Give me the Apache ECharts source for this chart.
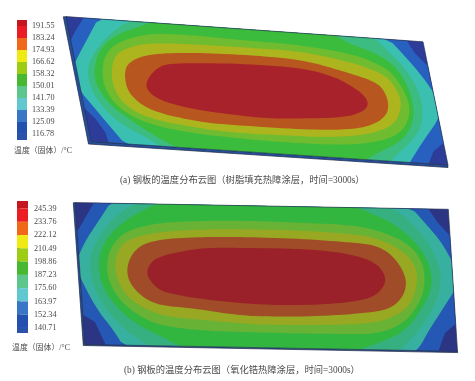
<!DOCTYPE html>
<html>
<head>
<meta charset="utf-8">
<style>
  html, body { margin: 0; padding: 0; background: #fff; }
  #main { width: 475px; height: 381px; filter: blur(0.35px); }
</style>
<script src="https://cdn.jsdelivr.net/npm/echarts@6/dist/echarts.min.js"></script>
</head>
<body>
<div id="main"></div>
<script>
// colour bar levels
const levelsA = [191.55, 183.24, 174.93, 166.62, 158.32, 150.01, 141.70, 133.39, 125.09, 116.78];
const levelsB = [245.39, 233.76, 222.12, 210.49, 198.86, 187.23, 175.60, 163.97, 152.34, 140.71];
const rangeA = [112.6, 195.7];
const rangeB = [136.3, 252.0];
const barColors = ['#c4161f', '#ec1c24', '#f0691a', '#f0ea14', '#9ccc14', '#48b832', '#5cc68c', '#62c8d0', '#3a76c8', '#2450b0', '#2a52a8'];

const captionA = '(a) 钢板的温度分布云图（树脂填充热障涂层，时间=3000s）';
const captionB = '(b) 钢板的温度分布云图（氧化锆热障涂层，时间=3000s）';
const unitLabel = '温度（固体）/°C';

// plate outlines + contours (image px, the axes below are 0-475 / 0-381)
const sideA = [[63.3,16.8],[66.5,16.8],[92,141.5],[447.8,165],[448,167.5],[88.5,144]];
const plateA = [[66,16.6],[423,41.8],[448,165],[91,141.6]];
const blueA = [[86,14],[75,31.7],[70,41.7],[60,50],[60,105],[82,106],[95,118.3],[105,131.7],[110,146],[427,168],[433.3,151.7],[443.3,143],[455,143],[455,66],[427.4,65.7],[415,53.3],[405,38]];
const cyanA = [[101.7,12],[86.7,40],[77,58],[72,70],[78,88.3],[93.3,106.7],[111.7,128.3],[128.3,148],[200,156],[300,163],[405,172],[410,161.7],[425,138.3],[441,116],[437,98.3],[424,78.3],[404,55],[386,36],[300,26],[200,19]];
const tealA = [[133,17],[106.7,36.7],[93.3,53.3],[87,70],[90.5,88.3],[104,109],[124,126],[150,139],[170,152],[250,161],[320,166],[385,170],[391,160],[411,142],[421,128],[423,108],[417.5,88],[404,67],[386,49],[370,34],[300,24],[200,17]];
const greenA = [[165,17],[150,23],[116.7,34],[100.5,48],[94,66.7],[95.5,84],[109,104],[129,119],[150,133],[185,152],[250,161],[320,166],[355,168],[371,156],[401,142],[412.5,125],[414,106.7],[407.5,85],[394,64],[371,51],[350,44],[325,29],[250,21]];
const limeA = [[102,70],[105,55],[117,42],[150,33],[190,35],[240,40],[301.7,45],[351.7,54],[371,61],[391,71],[404.5,91],[410.5,108],[406.5,126],[394,137],[371,143],[340,145],[285,142.5],[240,138.5],[186.7,132.5],[143,122.5],[117,107],[104,87]];
const yellowA = [[111,70],[115,55],[129,47],[150,43],[190,44],[240,47.2],[301.7,51.2],[351.7,62.6],[371,69],[388,77],[399.5,94],[401.5,108],[394.5,125],[371,134],[335,137.5],[285,135.5],[240,133.2],[200,128.5],[150,119],[125.5,106],[113.5,89]];
const orangeA = [[124,75],[128,62],[149,54],[190,52.5],[240,54.5],[301.7,59.5],[342,71],[371,80],[383,88],[389,103.3],[386.5,116],[371,126],[345,130],[301.7,129.5],[240,125.5],[200,122.3],[150,111],[128.5,94]];
const redA = [[144.5,83],[158,66],[176.7,63],[240,63.5],[301.7,67.8],[336,77],[359.5,91],[369,101.7],[365,111],[345,117.5],[301.7,118.5],[268,118.5],[240,115.5],[200,110.5],[165.7,102.5],[150,94]];

const sideB = [[73.3,202.8],[75.5,202.8],[85.3,344],[457.5,351],[457.7,352.6],[83.3,345.5]];
const plateB = [[75,202.6],[448.3,209.3],[457.5,351.3],[85,344.4]];
const blueB = [[96.7,198],[85,218],[78.3,229.7],[68,240],[68,310],[85,316],[95,322],[106.7,347],[436.7,356],[445,333],[456.7,323],[465,323],[465,234],[449,234.7],[436.7,221.3],[425.7,205]];
const cyanB = [[115,196],[98.3,221.3],[84,243],[75,264.7],[84,285.5],[98.3,311.3],[113.3,329.7],[125,349],[200,355],[300,357],[400,361],[418.3,350],[429,330],[444,307],[458,285],[458,273],[443,244],[426,224],[408,204],[300,197],[200,195]];
const tealB = [[136.7,201],[110,221],[94,244.7],[88.5,264.7],[94,288.5],[107.5,312],[126,330.5],[150,347],[170,353],[250,357],[330,359],[391.7,357],[404,347],[419,330.5],[434.5,307],[441.5,283],[439.5,266],[429,242],[409,220],[389,205],[300,198],[200,196]];
const greenB = [[150,206],[119,224],[102,244.7],[98,264.7],[102.3,287],[116,307],[136,324],[160,336],[190,351],[250,355],[320,356],[345,354],[376,344],[404,332.5],[421,310.5],[431.5,290],[431.5,269],[419.3,245.3],[396,225],[376,215],[345,203],[250,198],[175,198]];
const limeB = [[106.3,264.7],[110.5,247],[126,230.3],[160,222.5],[200,221],[240,220.5],[301.7,222.8],[351.7,225],[376,230],[402.5,240],[419.5,255],[425.8,276.3],[421.5,300.5],[404,324],[376,334],[350,334],[301.7,333.5],[240,332],[200,330.5],[160,325.5],[141,317],[120.7,302],[109,282]];
const yellowB = [[114.7,266.3],[117,252],[127.3,238.7],[160,231.8],[200,229.5],[240,229],[301.7,230.5],[358.3,234.5],[376,238],[399,248],[414.5,263],[418.2,279.7],[411.5,304],[396,316],[375,323],[335,325],[268.3,325],[240,323.2],[186.7,318.6],[160,315.5],[132.3,302],[119,285.5]];
const orangeB = [[126.5,264.7],[137,246.5],[160,239],[200,237],[240,236.8],[301.7,238.8],[352,242.5],[376,245.3],[393,255.3],[406.5,276.3],[405,294],[393,307.3],[375,312.3],[318.3,316.5],[268.3,316.5],[240,315.5],[186.7,307.5],[160,305.5],[142.3,297.3],[128.5,282]];
const redB = [[146.5,276.3],[148.5,265],[159,256],[200,247.8],[240,247.8],[301.7,248.8],[345,252.8],[376,262],[387,278],[381.5,290.5],[369,299],[335,304],[285,305.5],[240,303.2],[200,298.8],[175,294.5],[159,290.5]];

const paletteA = { navy: '#2c3c98', blue: '#2860c0', cyan: '#3abfb0', teal: '#3cbc80', green: '#3cbc3c', lime: '#70bc30', yellow: '#acb41e', orange: '#b8561f', red: '#a8222c' };
const paletteB = { navy: '#2c3484', blue: '#2458b4', cyan: '#38b0a0', teal: '#36b080', green: '#33b640', lime: '#68b236', yellow: '#98a822', orange: '#a04c28', red: '#9a2029' };

// corner cutting, the read-off vertices are a bit noisy for the library's own smooth option
function cutCorners(pts, rounds) {
  let out = pts;
  for (let r = 0; r < rounds; r++) {
    const next = [];
    out.forEach((p, i) => {
      const q = out[(i + 1) % out.length];
      next.push([p[0] * 0.75 + q[0] * 0.25, p[1] * 0.75 + q[1] * 0.25]);
      next.push([p[0] * 0.25 + q[0] * 0.75, p[1] * 0.25 + q[1] * 0.75]);
    });
    out = next;
  }
  return out;
}

function polygonSeries(points, color, clipTo, rounds, stroke) {
  return {
    type: 'custom',
    coordinateSystem: 'cartesian2d',
    xAxisIndex: 0,
    yAxisIndex: 0,
    silent: true,
    clip: false,
    data: points,
    renderItem: (params, api) => {
      if (params.dataIndex !== 0) return null;
      const el = {
        type: 'polygon',
        shape: { points: cutCorners(points.map(p => api.coord(p)), rounds || 0) },
        style: { fill: color, stroke: stroke || null, lineWidth: stroke ? 0.7 : 0 }
      };
      if (clipTo) el.clipPath = { type: 'polygon', shape: { points: clipTo.map(p => api.coord(p)) } };
      return el;
    }
  };
}

function plateSeries(side, sideColor, plate, pal, contours) {
  const list = [
    polygonSeries(side, sideColor, null, 0, '#1c2440'),
    polygonSeries(plate, pal.navy)
  ];
  list.push(polygonSeries(contours.blue, pal.blue, plate));
  list.push(polygonSeries(contours.cyan, pal.cyan, plate, 2));
  list.push(polygonSeries(contours.teal, pal.teal, plate, 2));
  list.push(polygonSeries(contours.green, pal.green, plate, 2));
  list.push(polygonSeries(contours.lime, pal.lime, plate, 3));
  list.push(polygonSeries(contours.yellow, pal.yellow, plate, 3));
  list.push(polygonSeries(contours.orange, pal.orange, plate, 3));
  list.push(polygonSeries(contours.red, pal.red, plate, 3));
  list.push(polygonSeries(plate, 'transparent', null, 0, '#2a3550'));
  return list;
}

// one colour band per gap between levels, plus the two end bands
function barBands(levels, range) {
  const edges = [range[1], ...levels, range[0]];
  return edges.slice(1).map((low, i) => [low, edges[i]]);
}

function barSeries(levels, range, axisIndex) {
  return {
    type: 'custom',
    xAxisIndex: axisIndex,
    yAxisIndex: axisIndex,
    silent: true,
    encode: { y: [0, 1] },
    data: barBands(levels, range),
    renderItem: (params, api) => {
      const top = api.coord([0, api.value(1)]);
      const bottom = api.coord([1, api.value(0)]);
      return {
        type: 'rect',
        shape: { x: top[0], y: top[1], width: bottom[0] - top[0], height: bottom[1] - top[1] },
        style: { fill: barColors[params.dataIndex] }
      };
    }
  };
}

function barAxis(levels, range, gridIndex, margin) {
  return {
    type: 'value',
    gridIndex: gridIndex,
    min: range[0],
    max: range[1],
    position: 'right',
    splitLine: { show: false },
    axisLine: { show: false },
    axisTick: { show: true, customValues: levels, length: 3, lineStyle: { color: '#555', width: 0.8 } },
    axisLabel: {
      customValues: levels,
      margin: margin,
      color: '#4a4a4a',
      fontSize: 8.2,
      fontFamily: '"Liberation Serif"',
      formatter: v => v.toFixed(2)
    }
  };
}

function label(text, left, top, size) {
  return {
    text: text,
    left: left,
    top: top,
    padding: 0,
    textStyle: { color: '#4a4a4a', fontSize: size, fontWeight: 'normal', fontFamily: '"Liberation Serif","Noto Sans CJK SC"' }
  };
}

const chart = echarts.init(document.getElementById('main'), null, { renderer: 'canvas' });
const hiddenX = { type: 'value', show: false, min: 0, max: 1 };

chart.setOption({
  animation: false,
  backgroundColor: '#fff',
  title: [
    label(unitLabel, 14, 147, 7.9),
    label(captionA, 120, 175.5, 9.3),
    label(unitLabel, 12, 344, 7.9),
    label(captionB, 124, 365.5, 9.3)
  ],
  grid: [
    { left: 0, top: 0, width: 475, height: 381 },
    { left: 17, top: 20, width: 10, height: 120 },
    { left: 17, top: 201, width: 11, height: 132 }
  ],
  xAxis: [
    { type: 'value', show: false, min: 0, max: 475 },
    { ...hiddenX, gridIndex: 1 },
    { ...hiddenX, gridIndex: 2 }
  ],
  yAxis: [
    { type: 'value', show: false, min: 0, max: 381, inverse: true },
    barAxis(levelsA, rangeA, 1, 5),
    barAxis(levelsB, rangeB, 2, 6)
  ],
  series: [
    ...plateSeries(sideA, '#25509c', plateA, paletteA, { blue: blueA, cyan: cyanA, teal: tealA, green: greenA, lime: limeA, yellow: yellowA, orange: orangeA, red: redA }),
    ...plateSeries(sideB, '#25509c', plateB, paletteB, { blue: blueB, cyan: cyanB, teal: tealB, green: greenB, lime: limeB, yellow: yellowB, orange: orangeB, red: redB }),
    barSeries(levelsA, rangeA, 1),
    barSeries(levelsB, rangeB, 2)
  ]
});
</script>
</body>
</html>
